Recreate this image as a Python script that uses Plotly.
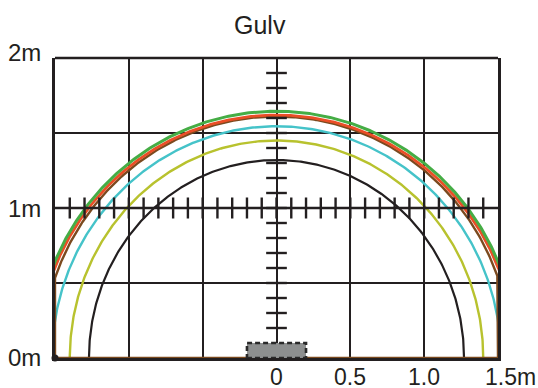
import numpy as np
import plotly.graph_objects as go

# half-width / height of each coverage curve (m)
curve_names = ["svart", "gul", "cyan", "brun", "oransje", "grønn"]
curve_rx = [1.27, 1.40, 1.52, 1.59, 1.617, 1.63]
curve_ry = [1.32, 1.45, 1.545, 1.61, 1.62, 1.645]
curve_colors = ["#231f20", "#b8c22e", "#45c3c9", "#7b4a1f", "#ea4e26", "#45ad45"]
curve_widths = [2.2, 2.4, 2.4, 2.4, 2.8, 3.0]

# ruler ticks on the centre cross (m)
h_ticks = [round(v, 1) for v in np.arange(-1.4, 1.45, 0.1)]
v_ticks = [round(v, 1) for v in np.arange(0.2, 1.95, 0.1)]

# speaker box on the floor
box_x = [-0.2, 0.2]
box_y = [0.0, 0.1]

x_labels = ["0", "0.5", "1.0", "1.5m"]
x_label_pos = [0, 0.5, 1.0, 1.5]
y_labels = ["2m", "1m", "0m"]
y_label_pos = [2, 1, 0]

ink = "#231f20"
font = "Liberation Sans, Arial, sans-serif"

fig = go.Figure()

t = np.linspace(0, np.pi, 400)
for name, rx, ry, col, w in zip(curve_names, curve_rx, curve_ry, curve_colors, curve_widths):
    xs = rx * np.cos(t)
    ys = ry * np.sin(t)
    if name == "brun":
        # brown contour runs down the sides and along the floor
        xs = np.clip(xs, -1.5, 1.5)
        xs = np.concatenate([xs, [-1.5, 1.5]])
        ys = np.concatenate([ys, [0.0, 0.0]])
    fig.add_trace(go.Scatter(x=xs, y=ys, mode="lines", name=name,
                             line=dict(color=col, width=w), hoverinfo="skip"))

# horizontal ruler at 1 m
hx, hy = [], []
for v in h_ticks:
    hx += [v, v, None]
    hy += [0.93, 1.07, None]
fig.add_trace(go.Scatter(x=[-1.5, 1.5] + [None] + hx, y=[1, 1] + [None] + hy,
                         mode="lines", line=dict(color=ink, width=2.4), hoverinfo="skip"))

# vertical ruler at 0
vx, vy = [], []
for v in v_ticks:
    vx += [-0.07, 0.07, None]
    vy += [v, v, None]
fig.add_trace(go.Scatter(x=vx, y=vy, mode="lines",
                         line=dict(color=ink, width=2.4), hoverinfo="skip"))

# box
fig.add_trace(go.Scatter(
    x=[box_x[0], box_x[1], box_x[1], box_x[0], box_x[0]],
    y=[box_y[0], box_y[0], box_y[1], box_y[1], box_y[0]],
    mode="lines", fill="toself", fillcolor="#8d8f8f",
    line=dict(color="#2a2a2a", width=2.6, dash="5px,3px"), hoverinfo="skip"))

# origin dot
fig.add_trace(go.Scatter(x=[-1.5], y=[0], mode="markers", cliponaxis=False,
                         marker=dict(color=ink, size=7), hoverinfo="skip"))

# top border
fig.add_shape(type="line", xref="x domain", yref="y domain", x0=0, x1=1, y0=1, y1=1,
              line=dict(color=ink, width=2.5))

for txt, pos in zip(x_labels, x_label_pos):
    if txt.endswith("m"):
        fig.add_annotation(x=pos, y=0, text=txt, showarrow=False, xanchor="left",
                           xshift=-15, yshift=-19, yanchor="middle",
                           font=dict(size=23, color=ink, family=font))
    else:
        fig.add_annotation(x=pos, y=0, text=txt, showarrow=False, xanchor="center",
                           yshift=-19, yanchor="middle",
                           font=dict(size=23, color=ink, family=font))

y_shifts = [6, 0, 1]
for txt, pos, ys in zip(y_labels, y_label_pos, y_shifts):
    fig.add_annotation(x=0, xref="paper", y=pos, text=txt, showarrow=False,
                       xanchor="right", yanchor="middle", xshift=-12, yshift=ys,
                       font=dict(size=24, color=ink, family=font))

# title, placed in plot-area fractions
fig.add_annotation(x=(260 - 55) / 443, xref="paper", y=1 + (58 - 25) / 300, yref="paper",
                   text="Gulv", showarrow=False, xanchor="center", yanchor="middle",
                   font=dict(size=25, color=ink, family=font))

fig.update_xaxes(range=[-1.5, 1.5], tickvals=[-1.5, -1, -0.5, 0, 0.5, 1, 1.5],
                 showticklabels=False, showgrid=True, gridcolor=ink, gridwidth=2,
                 zeroline=False, showline=True, linecolor=ink, linewidth=2.5,
                 mirror=False, layer="below traces", fixedrange=True)
fig.update_yaxes(range=[0, 2], tickvals=[0, 0.5, 1, 1.5, 2],
                 showticklabels=False, showgrid=True, gridcolor=ink, gridwidth=2,
                 zeroline=False, showline=True, linecolor=ink, linewidth=2.5,
                 mirror=True, layer="below traces", fixedrange=True)

fig.update_layout(width=538, height=388, showlegend=False,
                  margin=dict(l=55, r=40, t=58, b=30),
                  paper_bgcolor="white", plot_bgcolor="white")

fig.write_html("out.html", config={"displayModeBar": False},
               post_script="document.body.style.margin='0';")
